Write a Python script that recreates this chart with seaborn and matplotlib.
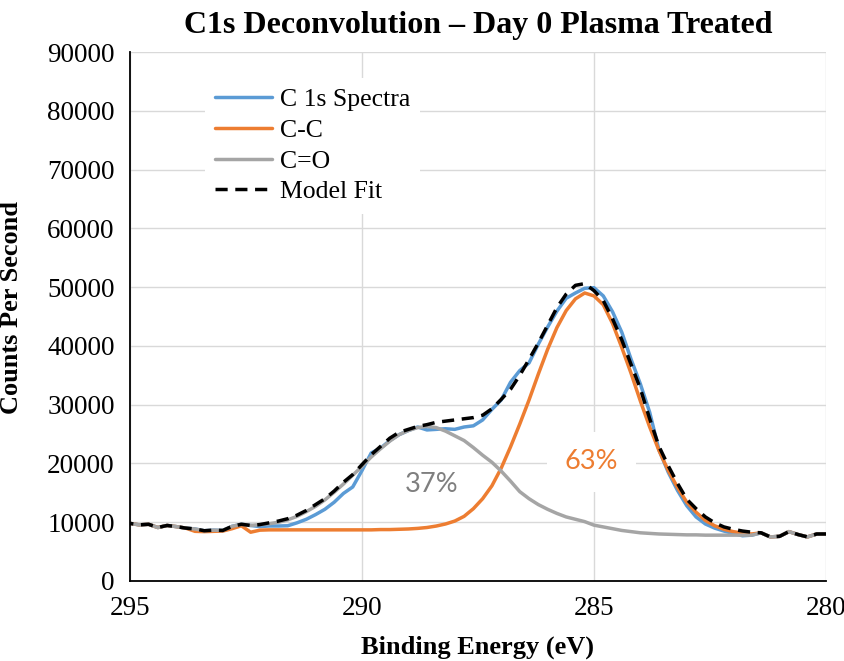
import matplotlib
matplotlib.use("Agg")
import matplotlib.pyplot as plt
import numpy as np
import pandas as pd
import seaborn as sns

# ---------------- data ----------------
energy = [295.0, 294.8, 294.6, 294.4, 294.2, 294.0, 293.8, 293.6, 293.4, 293.2,
          293.0, 292.8, 292.6, 292.4, 292.2, 292.0, 291.8, 291.6, 291.4, 291.2,
          291.0, 290.8, 290.6, 290.4, 290.2, 290.0, 289.8, 289.6, 289.4, 289.2,
          289.0, 288.8, 288.6, 288.4, 288.2, 288.0, 287.8, 287.6, 287.4, 287.2,
          287.0, 286.8, 286.6, 286.4, 286.2, 286.0, 285.8, 285.6, 285.4, 285.2,
          285.0, 284.8, 284.6, 284.4, 284.2, 284.0, 283.8, 283.6, 283.4, 283.2,
          283.0, 282.8, 282.6, 282.4, 282.2, 282.0, 281.8, 281.6, 281.4, 281.2,
          281.0, 280.8, 280.6, 280.4, 280.2, 280.0]

spectrum = [9800, 9550, 9650, 9100, 9450, 9250, 9000, 8850, 8550, 8650,
            8600, 9300, 9650, 9450, 9250, 9360, 9360, 9400, 9900, 10500,
            11300, 12200, 13400, 14900, 16000, 18800, 21800, 22600, 23900, 24900,
            25600, 26200, 25700, 25800, 25900, 25800, 26200, 26400, 27400, 29200,
            30800, 33800, 35800, 37100, 40300, 43200, 45900, 48100, 49000, 49800,
            49900, 48500, 45800, 42300, 37700, 33500, 28700, 22300, 18500, 15400,
            12800, 10900, 9700, 9000, 8500, 8100, 7700, 7800, 8200, 7500,
            7600, 8400, 7900, 7500, 8000, 8000]

c_c = [9800, 9550, 9650, 9100, 9450, 9250, 9000, 8450, 8400, 8450,
       8500, 8900, 9400, 8300, 8650, 8700, 8700, 8700, 8700, 8700,
       8700, 8700, 8700, 8700, 8700, 8700, 8700, 8750, 8750, 8800,
       8850, 8950, 9100, 9350, 9700, 10200, 11000, 12300, 14000, 16200,
       19200, 22800, 26700, 30800, 35200, 39400, 43100, 46000, 48000, 49000,
       48500, 47000, 43800, 39700, 35300, 30600, 26200, 22200, 18800, 15900,
       13400, 11700, 10300, 9400, 8800, 8400, 8150, 8000, 8200, 7500,
       7600, 8400, 7900, 7500, 8000, 8000]

c_o = [9800, 9550, 9650, 9100, 9450, 9250, 9000, 8850, 8550, 8650,
       8600, 9300, 9650, 9450, 9600, 9750, 10000, 10400, 11000, 11800,
       12700, 13800, 15100, 16500, 18000, 19500, 21100, 22500, 23800, 24900,
       25600, 26100, 26300, 26100, 25500, 24700, 23900, 22700, 21400, 20200,
       18700, 17000, 15200, 14000, 13000, 12200, 11500, 10900, 10500, 10100,
       9500, 9200, 8900, 8600, 8400, 8200, 8100, 8000, 7950, 7900,
       7850, 7850, 7800, 7800, 7800, 7800, 7800, 7800, 8200, 7500,
       7600, 8400, 7900, 7500, 8000, 8000]

model_fit = [9800, 9550, 9650, 9100, 9450, 9250, 9000, 8850, 8550, 8650,
             8600, 9300, 9650, 9450, 9600, 9900, 10200, 10600, 11200, 12000,
             13000, 14000, 15300, 16800, 18100, 19800, 21500, 22900, 24300, 25300,
             25800, 26300, 26600, 27000, 27200, 27400, 27600, 27800, 28200, 29300,
             30900, 32600, 35000, 37700, 40500, 43500, 46500, 48800, 50300, 50600,
             49400, 47700, 44600, 41000, 36800, 32700, 27600, 22900, 19600, 16600,
             13900, 12300, 10900, 9900, 9200, 8800, 8500, 8300, 8200, 7500,
             7600, 8400, 7900, 7500, 8000, 8000]

series_names = ["C 1s Spectra", "C-C", "C=O", "Model Fit"]
x_ticks = [295, 290, 285, 280]
y_ticks = [0, 10000, 20000, 30000, 40000, 50000, 60000, 70000, 80000, 90000]
pct_labels = ["37%", "63%"]

# ---------------- build long-form table ----------------
df = pd.DataFrame({
    "Binding Energy (eV)": energy * 4,
    "Counts Per Second": spectrum + c_c + c_o + model_fit,
    "Series": sum([[n] * len(energy) for n in series_names], []),
})

palette = {"C 1s Spectra": "#5B9BD5", "C-C": "#ED7D31",
           "C=O": "#A5A5A5", "Model Fit": "#000000"}
dashes = {"C 1s Spectra": "", "C-C": "", "C=O": "", "Model Fit": (3.5, 2.2)}

sns.set_theme(style="white")
plt.rcParams["font.family"] = ["Liberation Serif", "DejaVu Serif"]
plt.rcParams["text.color"] = "#000000"
plt.rcParams["axes.labelcolor"] = "#000000"

fig = plt.figure(figsize=(8.45, 6.61), dpi=100)
ax = fig.add_axes([130 / 845, 80 / 661, 696 / 845, 529 / 661])

sns.lineplot(data=df, x="Binding Energy (eV)", y="Counts Per Second",
             hue="Series", style="Series", hue_order=series_names,
             style_order=series_names, palette=palette, dashes=dashes,
             errorbar=None, linewidth=2.5, ax=ax, legend=True)

ax.set_xlim(295, 280)
ax.set_ylim(0, 90000)
ax.set_xticks(x_ticks)
ax.set_xticklabels([str(t) for t in x_ticks])
ax.set_yticks(y_ticks)
ax.set_yticklabels([str(t) for t in y_ticks])
ax.tick_params(axis="both", length=0, labelsize=19.5, colors="#000000")
ax.tick_params(axis="x", pad=11)
ax.tick_params(axis="y", pad=11)

ax.grid(True, color="#D9D9D9", linewidth=1.0)
ax.set_axisbelow(True)
for side in ["top", "right"]:
    ax.spines[side].set_visible(False)
for side in ["left", "bottom"]:
    ax.spines[side].set_color("#000000")
    ax.spines[side].set_linewidth(1.3)

ax.set_xlabel("Binding Energy (eV)", fontsize=19, fontweight="bold", labelpad=10)
ax.set_ylabel("Counts Per Second", fontsize=19, fontweight="bold", labelpad=10)
ax.yaxis.set_label_coords(-(130 - 23) / 696, (581 - 307) / 529)
fig.suptitle("C1s Deconvolution – Day 0 Plasma Treated", fontsize=23,
             fontweight="bold", x=478 / 845, y=1 - 11 / 661, va="top",
             color="#000000")

handles, labels = ax.get_legend_handles_labels()
leg = ax.legend(handles, labels, loc="upper left",
                bbox_to_anchor=(205 / 845, 1 - 78 / 661),
                bbox_transform=fig.transFigure, fontsize=18.5,
                frameon=True, facecolor="white", edgecolor="none",
                framealpha=1.0, fancybox=False, handlelength=2.2,
                handletextpad=0.3, labelspacing=0.3, borderpad=0.4,
                borderaxespad=0)
for t in leg.get_texts():
    t.set_color("#000000")

ax.text(288.5, 16500, pct_labels[0], color="#7F7F7F", fontsize=19.5,
        family=["Lato", "DejaVu Sans"], ha="center", va="center")
ax.text(285.05, 20300, pct_labels[1], color="#ED7D31", fontsize=19.5,
        family=["Lato", "DejaVu Sans"], ha="center", va="center",
        bbox=dict(boxstyle="square,pad=0.65", facecolor="white",
                  edgecolor="none"))

fig.savefig("out.png", dpi=100)
